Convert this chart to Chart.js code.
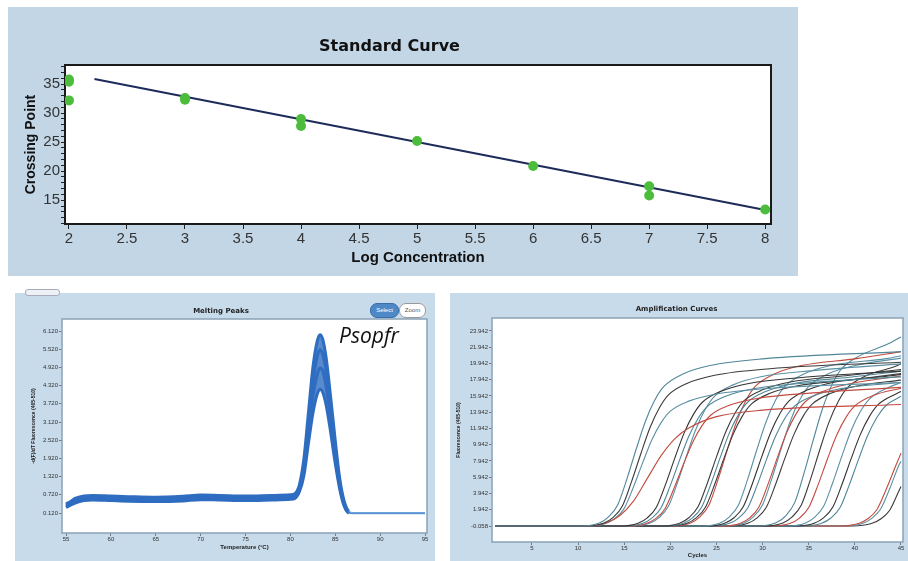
<!DOCTYPE html>
<html>
<head>
<meta charset="utf-8">
<script src="https://cdn.jsdelivr.net/npm/chart.js@4.4.1/dist/chart.umd.min.js"></script>
<style>
    body { margin: 0; background: #fff; }
    #page { position: relative; width: 908px; height: 561px; overflow: hidden; font-family: 'Liberation Sans', Arial, sans-serif; }
    .panel { position: absolute; }
    .panel canvas { position: absolute; left: 0; top: 0; }
    #stdPanel { left: 8px; top: 7px; width: 790px; height: 269px; background: #c3d6e6; }
    #meltPanel { left: 15px; top: 293px; width: 420px; height: 268px; background: #c8dbea; }
    #ampPanel { left: 450px; top: 293px; width: 458px; height: 268px; background: #c8dbea; }
    .btn { position: absolute; top: 10px; height: 13px; border-radius: 7px; font-size: 6px; line-height: 13px; text-align: center; }
    #btnSelect { left: 355px; width: 27px; background: #4f88c6; color: #fff; border: 1px solid #3a6ea8; }
    #btnZoom { left: 384px; width: 25px; background: #fff; color: #555; border: 1px solid #999; }
    #label { position: absolute; left: 339px; top: 325px; font: italic 21px 'Open Sans', sans-serif; color: #111; line-height: 1; }
    #tab { position: absolute; left: 25px; top: 289px; width: 33px; height: 5px; background: #eef2f6; border: 1px solid #aab; border-radius: 3px; }
</style>
</head>
<body>
<div id="page">
    <div class="panel" id="stdPanel"><canvas id="stdChart" width="790" height="269"></canvas></div>
    <div class="panel" id="meltPanel">
        <canvas id="meltChart" width="420" height="268"></canvas>
        <div class="btn" id="btnSelect">Select</div>
        <div class="btn" id="btnZoom">Zoom</div>
    </div>
    <div class="panel" id="ampPanel"><canvas id="ampChart" width="458" height="268"></canvas></div>
    <div id="tab"></div>
    <div id="label">Psopfr</div>
</div>
<script>

    /*
    ** Standard curve data
    */
    var stdConc = [2, 2, 2, 3, 3, 4, 4, 5, 6, 7, 7, 8];
    var stdCp = [35.8, 35.4, 32.2, 32.6, 32.3, 29.0, 27.8, 25.2, 20.9, 17.4, 15.8, 13.4];
    var fitConc = [2.22, 8];
    var fitCp = [35.9, 13.3];
    var stdXTicks = [2, 2.5, 3, 3.5, 4, 4.5, 5, 5.5, 6, 6.5, 7, 7.5, 8];
    var stdYTicks = [11, 12, 13, 14, 15, 16, 17, 18, 19, 20, 21, 22, 23, 24, 25, 26, 27, 28, 29, 30, 31, 32, 33, 34, 35, 36, 37, 38];
    var stdYLabels = [15, 20, 25, 30, 35];

    /*
    ** Melting peaks data
    */
    var meltTemps = [55, 55.5, 56, 57, 58, 60, 62, 65, 68, 70, 72, 75, 78, 80, 80.5, 81, 81.5, 82, 82.5, 83, 83.3, 83.6, 84, 84.5, 85, 85.5, 86, 86.5, 87, 88, 90, 95];
    var meltHigh = [0.42, 0.5, 0.6, 0.68, 0.7, 0.68, 0.66, 0.64, 0.67, 0.71, 0.7, 0.68, 0.7, 0.72, 0.76, 1.05, 1.9, 3.4, 4.9, 5.8, 6.0, 5.85, 5.2, 3.9, 2.5, 1.25, 0.5, 0.18, 0.13, 0.13, 0.13, 0.13];
    var meltMidHigh = [0.38, 0.46, 0.55, 0.63, 0.65, 0.63, 0.61, 0.6, 0.62, 0.66, 0.65, 0.63, 0.65, 0.67, 0.7, 0.95, 1.7, 3.05, 4.4, 5.3, 5.5, 5.35, 4.75, 3.55, 2.25, 1.1, 0.42, 0.15, 0.12, 0.12, 0.12, 0.12];
    var meltMidLow = [0.34, 0.42, 0.5, 0.58, 0.6, 0.58, 0.56, 0.55, 0.57, 0.61, 0.6, 0.58, 0.6, 0.62, 0.65, 0.9, 1.55, 2.75, 3.95, 4.7, 4.9, 4.8, 4.25, 3.2, 2.0, 1.0, 0.38, 0.13, 0.11, 0.11, 0.11, 0.11];
    var meltLow = [0.3, 0.38, 0.45, 0.53, 0.55, 0.53, 0.51, 0.5, 0.52, 0.56, 0.55, 0.53, 0.55, 0.57, 0.6, 0.82, 1.35, 2.4, 3.4, 4.05, 4.2, 4.1, 3.65, 2.75, 1.75, 0.9, 0.34, 0.12, 0.1, 0.1, 0.1, 0.1];
    var meltXTicks = [55, 60, 65, 70, 75, 80, 85, 90, 95];
    var meltYTicks = [0.12, 0.72, 1.32, 1.92, 2.52, 3.12, 3.72, 4.32, 4.92, 5.52, 6.12];

    /*
    ** Amplification curves data, [cycle, fluorescence] pairs per well
    */
    var ampCurves = [
        [[1,-0.06],[10.3,-0.06],[12.3,0.32],[13.3,1.07],[14.3,2.57],[15.3,5.78],[16.3,9.42],[17.3,12.84],[18.3,15.41],[19.3,17.12],[21.3,18.62],[24.3,19.69],[30.3,20.54],[45,21.4]],
        [[1,-0.06],[10.8,-0.06],[12.8,0.3],[13.8,1.01],[14.8,2.41],[15.8,5.43],[16.8,8.84],[17.8,12.06],[18.8,14.47],[19.8,16.08],[21.8,17.49],[24.8,18.49],[30.8,19.3],[45,20.1]],
        [[1,-0.06],[11,-0.06],[13,0.3],[14.5,1.2],[16,3.0],[17.5,5.8],[19,8.6],[20.5,10.7],[22,12.0],[25,13.4],[30,14.2],[45,14.9]],
        [[1,-0.06],[11,-0.06],[13,0.26],[14,0.88],[15,2.11],[16,4.75],[17,7.74],[18,10.56],[19,12.67],[20,14.08],[22,15.31],[25,16.19],[31,16.9],[45,17.6]],
        [[1,-0.06],[14.5,-0.06],[16.5,0.29],[17.5,0.95],[18.5,2.28],[19.5,5.13],[20.5,8.36],[21.5,11.4],[22.5,13.68],[23.5,15.2],[25.5,16.53],[28.5,17.48],[34.5,18.24],[45,19.0]],
        [[1,-0.06],[15,-0.06],[17,0.27],[18,0.92],[19,2.2],[20,4.94],[21,8.05],[22,10.98],[23,13.18],[24,14.64],[26,15.92],[29,16.84],[35,17.57],[45,18.3]],
        [[1,-0.06],[15.4,-0.06],[17.4,0.26],[18.4,0.85],[19.4,2.04],[20.4,4.59],[21.4,7.48],[22.4,10.2],[23.4,12.24],[24.4,13.6],[26.4,14.79],[29.4,15.64],[35.4,16.32],[45,17.0]],
        [[1,-0.06],[15.8,-0.06],[17.8,0.3],[18.8,1.0],[19.8,2.39],[20.8,5.37],[21.8,8.76],[22.8,11.94],[23.8,14.33],[24.8,15.92],[26.8,17.31],[29.8,18.31],[35.8,19.1],[45,19.9]],
        [[1,-0.06],[19,-0.06],[21,0.29],[22,0.96],[23,2.3],[24,5.18],[25,8.45],[26,11.52],[27,13.82],[28,15.36],[30,16.7],[33,17.66],[39,18.43],[45,19.2]],
        [[1,-0.06],[19.4,-0.06],[21.4,0.29],[22.4,0.95],[23.4,2.28],[24.4,5.13],[25.4,8.36],[26.4,11.4],[27.4,13.68],[28.4,15.2],[30.4,16.53],[33.4,17.48],[39.4,18.24],[45,19.0]],
        [[1,-0.06],[19.8,-0.06],[21.8,0.28],[22.8,0.94],[23.8,2.24],[24.8,5.05],[25.8,8.23],[26.8,11.22],[27.8,13.46],[28.8,14.96],[30.8,16.27],[33.8,17.2],[39.8,17.95],[45,18.7]],
        [[1,-0.06],[20.2,-0.06],[22.2,0.32],[23.2,1.07],[24.2,2.57],[25.2,5.78],[26.2,9.42],[27.2,12.84],[28.2,15.41],[29.2,17.12],[31.2,18.62],[34.2,19.69],[40.2,20.54],[45,21.4]],
        [[1,-0.06],[23.4,-0.06],[25.4,0.32],[26.4,1.07],[27.4,2.57],[28.4,5.78],[29.4,9.42],[30.4,12.84],[31.4,15.41],[32.4,17.12],[34.4,18.62],[37.4,19.69],[43.4,20.54],[45,20.9]],
        [[1,-0.06],[23.9,-0.06],[25.9,0.29],[26.9,0.96],[27.9,2.3],[28.9,5.18],[29.9,8.45],[30.9,11.52],[31.9,13.82],[32.9,15.36],[34.9,16.7],[37.9,17.66],[43.9,18.43],[45,18.6]],
        [[1,-0.06],[24.4,-0.06],[26.4,0.27],[27.4,0.92],[28.4,2.2],[29.4,4.94],[30.4,8.05],[31.4,10.98],[32.4,13.18],[33.4,14.64],[35.4,15.92],[38.4,16.84],[45,17.6]],
        [[1,-0.06],[25.6,-0.06],[27.6,0.29],[28.6,0.95],[29.6,2.28],[30.6,5.13],[31.6,8.36],[32.6,11.4],[33.6,13.68],[34.6,15.2],[36.6,16.53],[39.6,17.48],[45,18.4]],
        [[1,-0.06],[26,-0.06],[28,0.32],[29,1.07],[30,2.57],[31,5.78],[32,9.42],[33,12.84],[34,15.41],[35,17.12],[37,18.62],[40,19.69],[45,20.6]],
        [[1,-0.06],[26.4,-0.06],[28.4,0.28],[29.4,0.94],[30.4,2.24],[31.4,5.05],[32.4,8.23],[33.4,11.22],[34.4,13.46],[35.4,14.96],[37.4,16.27],[40.4,17.2],[45,17.9]],
        [[1,-0.06],[29.5,-0.06],[31.5,0.36],[32.5,1.2],[33.5,2.88],[34.5,6.48],[35.5,10.56],[36.5,14.4],[37.5,17.28],[38.5,19.2],[40.5,20.88],[43.5,22.3],[45,23.2]],
        [[1,-0.06],[30.2,-0.06],[32.2,0.32],[33.2,1.06],[34.2,2.54],[35.2,5.72],[36.2,9.33],[37.2,12.72],[38.2,15.26],[39.2,16.96],[41.2,18.44],[44.2,19.5],[45,19.9]],
        [[1,-0.06],[31,-0.06],[33,0.28],[34,0.92],[35,2.21],[36,4.97],[37,8.1],[38,11.04],[39,13.25],[40,14.72],[42,16.0],[45,16.9]],
        [[1,-0.06],[32.6,-0.06],[34.6,0.29],[35.6,0.98],[36.6,2.34],[37.6,5.27],[38.6,8.58],[39.6,11.7],[40.6,14.04],[41.6,15.6],[43.6,16.97],[45,17.6]],
        [[1,-0.06],[33.6,-0.06],[35.6,0.28],[36.6,0.94],[37.6,2.24],[38.6,5.05],[39.6,8.23],[40.6,11.22],[41.6,13.46],[42.6,14.96],[44.6,16.27],[45,16.5]],
        [[1,-0.06],[34.4,-0.06],[36.4,0.28],[37.4,0.93],[38.4,2.22],[39.4,5.0],[40.4,8.14],[41.4,11.1],[42.4,13.32],[43.4,14.8],[45,15.9]],
        [[1,-0.06],[38.4,-0.06],[40.4,0.25],[41.4,0.83],[42.4,1.98],[43.4,4.46],[44.4,7.26],[45,8.9]],
        [[1,-0.06],[38.8,-0.06],[40.8,0.26],[41.8,0.85],[42.8,2.04],[43.8,4.59],[44.8,7.48],[45,7.9]],
        [[1,-0.06],[39.8,-0.06],[41.8,0.24],[42.8,0.8],[43.8,1.92],[44.8,4.32],[45,4.8]]
    ];
    var ampXTicks = [5, 10, 15, 20, 25, 30, 35, 40, 45];
    var ampYTicks = [-0.058, 1.942, 3.942, 5.942, 7.942, 9.942, 11.942, 13.942, 15.942, 17.942, 19.942, 21.942, 23.942];

    /*
    ** Shared look
    */
    var sans = "'Liberation Sans', Arial, sans-serif";
    var wide = "'DejaVu Sans', Verdana, sans-serif";
    var ampColors = ['#4f8799', '#3b3b3b', '#c24a3f', '#5a90a3', '#333', '#4f8799', '#c24a3f', '#5a90a3', '#3b3b3b'];

    /*
    ** White plot area and a frame round it
    */
    var framePlugin = {
        id: 'frame',
        beforeDraw: function (chart, args, opts) {
            var a = chart.chartArea, ctx = chart.ctx;
            ctx.save();
            ctx.fillStyle = '#fff';
            ctx.fillRect(a.left, a.top, a.right - a.left, a.bottom - a.top);
            ctx.restore();
        },
        beforeDatasetsDraw: function (chart, args, opts) {
            var a = chart.chartArea, ctx = chart.ctx;
            ctx.save();
            ctx.strokeStyle = opts.color;
            ctx.lineWidth = opts.width;
            ctx.strokeRect(a.left, a.top, a.right - a.left, a.bottom - a.top);
            ctx.restore();
        }
    };

    function fixedTicks(list) {
        return function (scale) {
            scale.ticks = list.map(function (v) { return { value: v }; });
        };
    }

    /*
    ** Standard curve
    */
    new Chart(document.getElementById('stdChart'), {
        type: 'scatter',
        data: {
            datasets: [
                {
                    data: stdConc.map(function (x, i) { return { x: x, y: stdCp[i] }; }),
                    backgroundColor: '#4cbd3b',
                    borderWidth: 0,
                    pointRadius: 5,
                    order: 1
                },
                {
                    type: 'line',
                    data: fitConc.map(function (x, i) { return { x: x, y: fitCp[i] }; }),
                    borderColor: '#1d2b5a',
                    borderWidth: 2,
                    pointRadius: 0,
                    order: 2
                }
            ]
        },
        options: {
            responsive: false,
            animation: false,
            layout: { padding: { left: 0, right: 27, top: 0, bottom: 0 } },
            plugins: {
                legend: { display: false },
                tooltip: { enabled: false },
                title: {
                    display: true,
                    text: 'Standard Curve',
                    color: '#111',
                    font: { family: wide, weight: 'bold', size: 16 },
                    padding: { top: 30, bottom: 8.8 }
                },
                frame: { color: '#1a1a1a', width: 2 }
            },
            scales: {
                x: {
                    type: 'linear',
                    min: 1.966,
                    max: 8.05,
                    afterBuildTicks: fixedTicks(stdXTicks),
                    afterFit: function (s) { s.height = 52; },
                    border: { display: false },
                    grid: { drawOnChartArea: false, tickLength: 5, color: '#222' },
                    ticks: { color: '#333', padding: 1, maxRotation: 0, autoSkip: false, font: { family: sans, size: 15 }, callback: function (v) { return String(v); } },
                    title: { display: true, text: 'Log Concentration', color: '#111', font: { family: sans, weight: 'bold', size: 15 }, padding: { top: 0, bottom: 9 } }
                },
                y: {
                    min: 10.9,
                    max: 38.3,
                    afterBuildTicks: fixedTicks(stdYTicks),
                    afterFit: function (s) { s.width = 57; },
                    border: { display: false },
                    grid: { drawOnChartArea: false, tickLength: 4, color: '#222' },
                    ticks: {
                        color: '#333', padding: 1, autoSkip: false, font: { family: sans, size: 15 },
                        callback: function (v) { return stdYLabels.indexOf(v) >= 0 ? String(v) : ''; }
                    },
                    title: { display: true, text: 'Crossing Point', color: '#111', font: { family: sans, weight: 'bold', size: 14 }, padding: { top: 15, bottom: 0 } }
                }
            }
        },
        plugins: [framePlugin]
    });

    /*
    ** Melting peaks
    */
    var meltSeries = [meltHigh, meltMidHigh, meltMidLow, meltLow];
    new Chart(document.getElementById('meltChart'), {
        type: 'line',
        data: {
            datasets: meltSeries.map(function (s, k) {
                return {
                    data: meltTemps.map(function (t, i) { return { x: t, y: s[i] }; }),
                    borderColor: '#2e6dc0',
                    backgroundColor: 'rgba(46,109,192,0.8)',
                    fill: k === 0 ? '+3' : false,
                    borderWidth: 3,
                    pointRadius: 0,
                    cubicInterpolationMode: 'monotone',
                    segment: {
                        borderWidth: function (c) { return c.p0.parsed.x >= 86.5 ? 1.2 : 3; },
                        borderColor: function (c) { return c.p0.parsed.x >= 86.5 ? '#6ea2da' : '#2e6dc0'; }
                    }
                };
            })
        },
        options: {
            responsive: false,
            animation: false,
            layout: { padding: { left: 0, right: 8, top: 0, bottom: 0 } },
            plugins: {
                legend: { display: false },
                tooltip: { enabled: false },
                title: {
                    display: true,
                    text: 'Melting Peaks',
                    color: '#222',
                    font: { family: wide, weight: 'bold', size: 7 },
                    padding: { top: 14, bottom: 3.6 }
                },
                frame: { color: '#8aa2b6', width: 1.5 }
            },
            scales: {
                x: {
                    type: 'linear',
                    min: 54.55,
                    max: 95.22,
                    afterBuildTicks: fixedTicks(meltXTicks),
                    afterFit: function (s) { s.height = 28; },
                    border: { display: false },
                    grid: { drawOnChartArea: false, tickLength: 3, color: '#778' },
                    ticks: { color: '#333', padding: 0, maxRotation: 0, autoSkip: false, font: { family: sans, size: 6 } },
                    title: { display: true, text: 'Temperature (°C)', color: '#222', font: { family: sans, weight: 'bold', size: 6 }, padding: { top: 0, bottom: 10 } }
                },
                y: {
                    min: -0.539,
                    max: 6.516,
                    afterBuildTicks: fixedTicks(meltYTicks),
                    afterFit: function (s) { s.width = 47; },
                    border: { display: false },
                    grid: { drawOnChartArea: false, tickLength: 3, color: '#778' },
                    ticks: { color: '#333', padding: 1, autoSkip: false, font: { family: sans, size: 6 }, callback: function (v) { return v.toFixed(3); } },
                    title: { display: true, text: '-d(F)/dT Fluorescence (465-510)', color: '#222', font: { family: sans, weight: 'bold', size: 5 }, padding: { top: 16, bottom: 0 } }
                }
            }
        },
        plugins: [framePlugin]
    });

    /*
    ** Amplification curves
    */
    new Chart(document.getElementById('ampChart'), {
        type: 'line',
        data: {
            datasets: ampCurves.map(function (c, i) {
                return {
                    data: c,
                    borderColor: ampColors[i % ampColors.length],
                    borderWidth: 1.1,
                    pointRadius: 0,
                    cubicInterpolationMode: 'monotone'
                };
            })
        },
        options: {
            responsive: false,
            animation: false,
            layout: { padding: { left: 0, right: 5, top: 0, bottom: 0 } },
            plugins: {
                legend: { display: false },
                tooltip: { enabled: false },
                title: {
                    display: true,
                    text: 'Amplification Curves',
                    color: '#222',
                    font: { family: wide, weight: 'bold', size: 7 },
                    padding: { top: 12, bottom: 4.6 }
                },
                frame: { color: '#8aa2b6', width: 1.5 }
            },
            scales: {
                x: {
                    type: 'linear',
                    min: 0.664,
                    max: 45.22,
                    afterBuildTicks: fixedTicks(ampXTicks),
                    afterFit: function (s) { s.height = 19; },
                    border: { display: false },
                    grid: { drawOnChartArea: false, tickLength: 3, color: '#778' },
                    ticks: { color: '#333', padding: 0, maxRotation: 0, autoSkip: false, font: { family: sans, size: 6 } },
                    title: { display: true, text: 'Cycles', color: '#222', font: { family: sans, weight: 'bold', size: 6 }, padding: { top: 0, bottom: 2 } }
                },
                y: {
                    min: -2.027,
                    max: 25.54,
                    afterBuildTicks: fixedTicks(ampYTicks),
                    afterFit: function (s) { s.width = 42; },
                    border: { display: false },
                    grid: { drawOnChartArea: false, tickLength: 3, color: '#778' },
                    ticks: { color: '#333', padding: 1, autoSkip: false, font: { family: sans, size: 6 }, callback: function (v) { return v.toFixed(3); } },
                    title: { display: true, text: 'Fluorescence (465-510)', color: '#222', font: { family: sans, weight: 'bold', size: 5 }, padding: { top: 6, bottom: 0 } }
                }
            }
        },
        plugins: [framePlugin]
    });

</script>
</body>
</html>
